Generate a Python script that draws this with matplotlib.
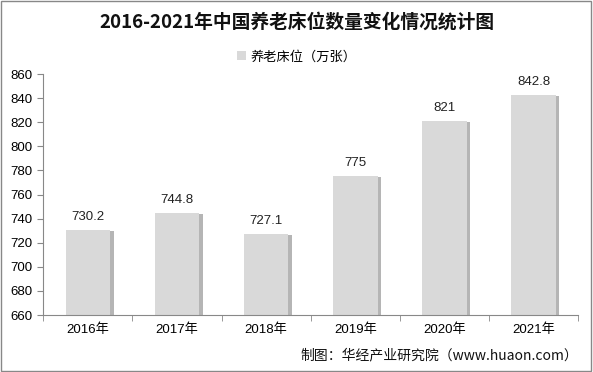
import matplotlib.pyplot as plt
from matplotlib.patches import Rectangle

plt.rcParams['font.family'] = ['Noto Sans CJK SC', 'DejaVu Sans']

# 数据
years = ['2016年', '2017年', '2018年', '2019年', '2020年', '2021年']
beds = [730.2, 744.8, 727.1, 775, 821, 842.8]
labels = ['730.2', '744.8', '727.1', '775', '821', '842.8']

fig = plt.figure(figsize=(5.93, 3.72), dpi=100)
ax = fig.add_axes([0.073, 0.153, 0.902, 0.648])

x = range(len(years))
width = 0.5
# 阴影
ax.bar([i + 0.04 for i in x], [v - 0.8 for v in beds], width, bottom=0,
       color='#b5b5b5', zorder=1)
ax.bar(x, beds, width, color='#d9d9d9', label='养老床位（万张）', zorder=2)

for i, v in enumerate(beds):
    ax.text(i, v + 6, labels[i], ha='center', va='bottom', fontsize=9.5,
            color='#222222', family=['Liberation Sans', 'DejaVu Sans'])

ax.set_ylim(660, 860)
ax.set_yticks(range(660, 861, 20))
ax.set_xlim(-0.5, len(years) - 0.5)
ax.set_xticks(list(x))
ax.set_xticklabels(years)
ax.set_xticks([i - 0.5 for i in range(len(years) + 1)], minor=True)
ax.tick_params(axis='x', which='major', length=0, labelsize=9.5, pad=6)
ax.tick_params(axis='x', which='minor', length=4, color='#888888')
ax.tick_params(axis='y', length=4, labelsize=9.5, color='#888888')
for lab in ax.get_yticklabels() + ax.get_xticklabels():
    lab.set_fontfamily(['Liberation Sans', 'Noto Sans CJK SC'])
for s in ['top', 'right']:
    ax.spines[s].set_visible(False)
ax.spines['left'].set_color('#888888')
ax.spines['bottom'].set_color('#888888')

fig.text(0.5, 0.94, '2016-2021年中国养老床位数量变化情况统计图', ha='center', va='center',
         fontsize=13.5, fontweight='bold', color='#111111')
fig.legend(loc='center', bbox_to_anchor=(0.5, 0.847), frameon=False, fontsize=9.5,
           handlelength=0.7, handleheight=0.7, handletextpad=0.3)
fig.text(0.975, 0.045, '制图：华经产业研究院（www.huaon.com）', ha='right', va='center',
         fontsize=10, color='#111111')

fig.patches.append(Rectangle((0.002, 0.003), 0.995, 0.993, transform=fig.transFigure,
                             fill=False, edgecolor='#888888', linewidth=1))

fig.savefig('out.png', dpi=100)
